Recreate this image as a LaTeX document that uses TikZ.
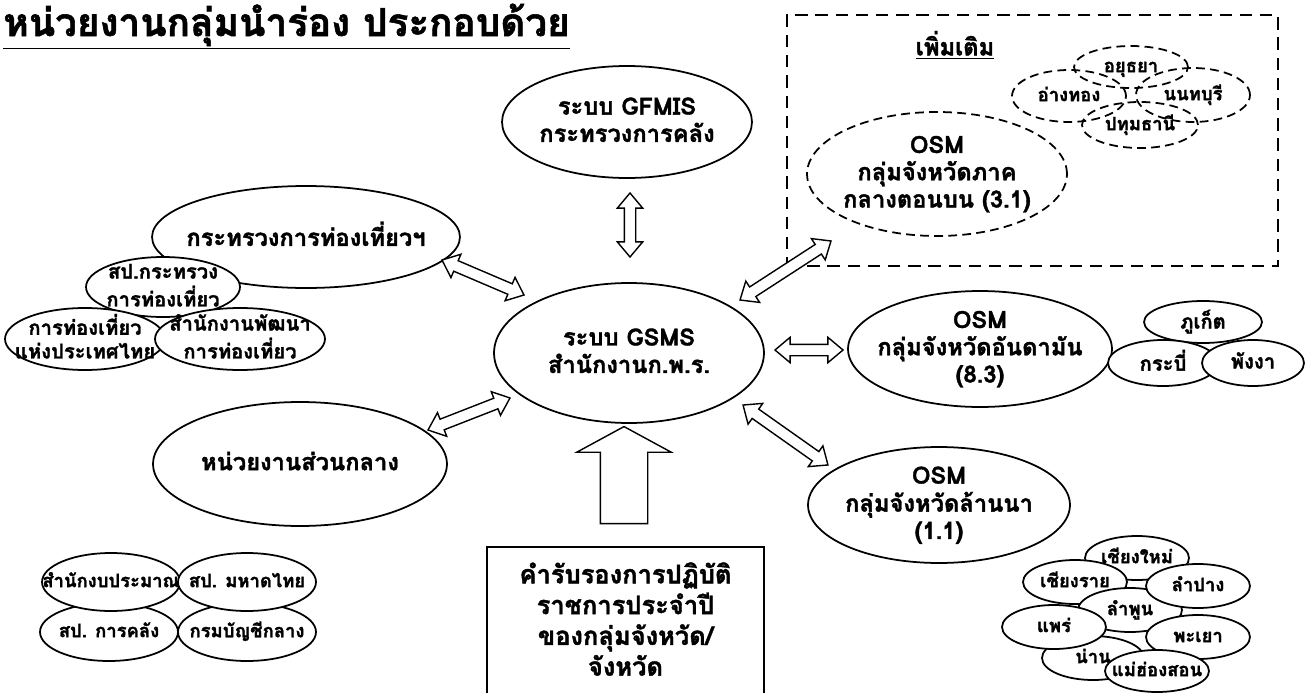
\documentclass[tikz,border=0pt]{standalone}
\usepackage{fontspec}
\setmainfont{Loma}[Script=Thai, BoldFeatures={FakeBold=1.5}]
\usetikzlibrary{shapes.geometric,shapes.arrows,calc}

\tikzset{
  oval/.style={ellipse, draw, line width=1pt, fill=white, inner sep=0pt},
  dashoval/.style={ellipse, draw, line width=1pt, dash pattern=on 5pt off 3pt, inner sep=0pt},
  small/.style={font=\fontsize{11.5}{13.5}\selectfont\bfseries},
  tiny/.style={font=\fontsize{10.5}{12.5}\selectfont\bfseries},
  twoway/.style={double arrow, draw, fill=white, line width=0.8pt, inner xsep=0pt, inner ysep=0.1cm, double arrow head extend=0.14cm, double arrow tip angle=80},
  bigup/.style={single arrow, draw, fill=white, line width=0.8pt, inner xsep=0pt, inner ysep=0.46cm, minimum height=1.94cm, single arrow head extend=0.47cm, single arrow tip angle=123}
}
\newcommand\inside[1]{\smash{\makebox[0pt]{\raisebox{-0.3em}{\begin{tabular}{@{}c@{}}#1\end{tabular}}}}}
\newcommand\link[2]{\path let \p1=($(#2)-(#1)$), \n1={veclen(\x1,\y1)} in (#1) -- (#2) node[twoway, midway, sloped, minimum height=\n1] {};}

\begin{document}
\begin{tikzpicture}[x=0.02cm, y=-0.02cm, font=\fontsize{13.5}{15.5}\selectfont\bfseries]
	\useasboundingbox (0,0) rectangle (1316,693);
	\clip (0,0) rectangle (1316,693);

	\node[anchor=base west, inner sep=0pt, font=\fontsize{22}{26}\selectfont\bfseries] (title) at (3,36) {\underline{หน่วยงานกลุ่มนำร่อง ประกอบด้วย}};

	% กลุ่มเพิ่มเติม
	\node[draw, line width=1.6pt, dash pattern=on 7pt off 4.5pt, minimum width=9.82cm, minimum height=5.02cm] (more) at (1032.5,140.5) {};
	\node (addl) at (955,45) {\underline{เพิ่มเติม}};
	\node[dashoval, tiny, minimum width=2.32cm, minimum height=0.92cm] (pathum) at (1140,125) {\inside{ปทุมธานี}};
	\node[dashoval, tiny, minimum width=2.28cm, minimum height=1.04cm] (angt) at (1069,96) {\inside{อ่างทอง}};
	\node[dashoval, tiny, minimum width=2.28cm, minimum height=1.08cm] (nont) at (1193,95) {\inside{นนทบุรี}};
	\node[dashoval, tiny, minimum width=2.28cm, minimum height=0.84cm] (ayut) at (1131,67) {\inside{อยุธยา}};
	\node[dashoval, minimum width=5.2cm, minimum height=2.48cm] (osm31) at (937,174) {\inside{OSM\\กลุ่มจังหวัดภาค\\กลางตอนบน (3.1)}};

	% ศูนย์กลาง
	\node[oval, minimum width=5.0cm, minimum height=2.24cm] (gfmis) at (627,122) {\inside{ระบบ GFMIS\\กระทรวงการคลัง}};
	\node[oval, minimum width=5.4cm, minimum height=2.8cm] (gsms) at (629,353) {\inside{ระบบ GSMS\\สำนักงานก.พ.ร.}};
	\node[draw, line width=1pt, minimum width=5.54cm, minimum height=3.0cm, font=\fontsize{14.5}{17.5}\selectfont\bfseries] (pledge) at (625.5,622) {\inside{คำรับรองการปฏิบัติ\\ราชการประจำปี\\ของกลุ่มจังหวัด/\\จังหวัด}};
	\node[bigup, rotate=90] (push) at (624,481.5) {};

	% ท่องเที่ยว
	\node[oval, minimum width=6.16cm, minimum height=2.04cm] (tour) at (306,237) {\inside{กระทรวงการท่องเที่ยวฯ}};
	\node[oval, small, minimum width=3.08cm, minimum height=1.2cm] (sptour) at (163,287) {\inside{สป.กระทรวง\\การท่องเที่ยว}};
	\node[oval, small, minimum width=3.2cm, minimum height=1.24cm] (tat) at (85,339) {\inside{การท่องเที่ยว\\แห่งประเทศไทย}};
	\node[oval, small, minimum width=3.4cm, minimum height=1.24cm] (dtd) at (240,339) {\inside{สำนักงานพัฒนา\\การท่องเที่ยว}};

	% ส่วนกลาง
	\node[oval, minimum width=5.88cm, minimum height=2.48cm] (central) at (300,464) {\inside{หน่วยงานส่วนกลาง}};
	\node[oval, tiny, minimum width=2.76cm, minimum height=1.16cm] (mof) at (109,632) {\inside{สป. การคลัง}};
	\node[oval, tiny, minimum width=2.76cm, minimum height=1.16cm] (cgd) at (247,632) {\inside{กรมบัญชีกลาง}};
	\node[oval, tiny, minimum width=2.76cm, minimum height=1.16cm] (bb) at (111,582) {\inside{สำนักงบประมาณ}};
	\node[oval, tiny, minimum width=2.76cm, minimum height=1.16cm] (moi) at (247,582) {\inside{สป. มหาดไทย}};

	% อันดามัน
	\node[oval, minimum width=5.28cm, minimum height=2.32cm] (and83) at (980,349) {\inside{OSM\\กลุ่มจังหวัดอันดามัน\\(8.3)}};
	\node[oval, small, minimum width=2.36cm, minimum height=0.84cm] (phuket) at (1203,322) {\inside{ภูเก็ต}};
	\node[oval, small, minimum width=2.2cm, minimum height=0.92cm] (krabi) at (1163,363) {\inside{กระบี่}};
	\node[oval, small, minimum width=2.04cm, minimum height=0.92cm] (phang) at (1253,363) {\inside{พังงา}};

	% ล้านนา
	\node[oval, minimum width=5.24cm, minimum height=2.32cm] (lanna) at (939,505) {\inside{OSM\\กลุ่มจังหวัดล้านนา\\(1.1)}};
	\node[oval, tiny, minimum width=2.08cm, minimum height=0.88cm] (chm) at (1137,558) {\inside{เชียงใหม่}};
	\node[oval, tiny, minimum width=2.08cm, minimum height=0.88cm] (chr) at (1075,582) {\inside{เชียงราย}};
	\node[oval, tiny, minimum width=2.08cm, minimum height=0.88cm] (lpn) at (1130,610) {\inside{ลำพูน}};
	\node[oval, tiny, minimum width=2.08cm, minimum height=0.88cm] (lpg) at (1198,586) {\inside{ลำปาง}};
	\node[oval, tiny, minimum width=2.04cm, minimum height=0.88cm] (nan) at (1093,658) {\inside{น่าน}};
	\node[oval, tiny, minimum width=2.08cm, minimum height=0.88cm] (phr) at (1054,627) {\inside{แพร่}};
	\node[oval, tiny, minimum width=2.08cm, minimum height=0.88cm] (pyo) at (1198,637) {\inside{พะเยา}};
	\node[oval, tiny, minimum width=2.08cm, minimum height=0.84cm] (mhs) at (1157,671) {\inside{แม่ฮ่องสอน}};

	% ลูกศรสองทาง
	\coordinate (t1) at (442,260);
	\coordinate (t2) at (524,295);
	\coordinate (f1) at (630,193);
	\coordinate (f2) at (630,257);
	\coordinate (m1) at (740,300);
	\coordinate (m2) at (831,241);
	\coordinate (a1) at (775,350);
	\coordinate (a2) at (843,350);
	\coordinate (l1) at (743,405);
	\coordinate (l2) at (828,465);
	\coordinate (c1) at (428,430);
	\coordinate (c2) at (510,398);
	\link{t1}{t2}
	\link{f1}{f2}
	\link{m1}{m2}
	\link{a1}{a2}
	\link{l1}{l2}
	\link{c1}{c2}
\end{tikzpicture}
\end{document}
